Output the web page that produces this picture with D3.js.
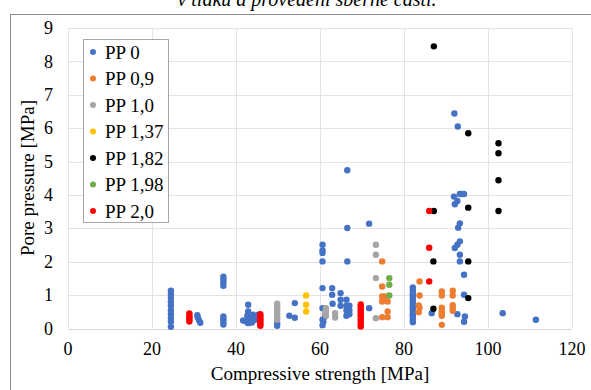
<!DOCTYPE html>
<html>
<head>
<meta charset="utf-8">
<script src="https://cdn.jsdelivr.net/npm/d3@7"></script>
<style>
  html, body { margin: 0; padding: 0; background: #fff; }
  svg { display: block; }
  svg text { font-family: "Liberation Serif", "DejaVu Serif", serif; }
</style>
</head>
<body>
<svg id="chart" width="591" height="390"></svg>
<script>
// series names (legend order = drawing order)
const seriesNames = ["PP 0", "PP 0,9", "PP 1,0", "PP 1,37", "PP 1,82", "PP 1,98", "PP 2,0"];

// [compressive strength, pore pressure]
const pp0 = [
  [24.5,1.13],[24.5,1.03],[24.5,0.93],[24.5,0.81],[24.5,0.69],[24.5,0.55],[24.5,0.43],[24.5,0.31],[24.5,0.2],[24.5,0.05],
  [30.8,0.4],[30.9,0.33],[31.2,0.25],[31.5,0.17],
  [37.0,1.55],[37.0,1.47],[37.0,1.38],[37.0,1.28],[37.0,0.36],[37.0,0.28],[37.0,0.2],[37.0,0.12],
  [42.9,0.71],[42.9,0.51],[42.7,0.38],[41.7,0.24],[42.3,0.22],[43.3,0.24],[42.9,0.16],[43.6,0.3],[44.1,0.41],[44.5,0.26],[45.3,0.41],[43.8,0.18],
  [49.8,0.16],[49.8,0.08],
  [52.7,0.38],[54.0,0.32],[54.0,0.76],
  [60.6,2.51],[60.6,2.34],[60.6,2.26],[60.6,2.01],[60.6,1.21],[60.6,0.61],[60.6,0.26],[60.6,0.1],[61.2,0.36],[60.8,0.2],
  [62.9,1.21],[62.9,1.01],[63.0,0.74],
  [64.9,1.06],[64.9,0.86],[64.9,0.68],
  [66.5,4.74],[66.5,3.01],[66.5,2.01],[66.3,0.86],[66.3,0.68],[67.0,0.68],[66.3,0.54],[67.0,0.54],[66.3,0.38],[67.0,0.43],
  [71.7,3.14],[71.7,0.61],
  [82.1,1.23],[82.1,1.15],[82.1,1.07],[82.1,0.99],[82.1,0.91],[82.1,0.83],[82.1,0.75],[82.1,0.67],[82.1,0.59],[82.1,0.51],[82.1,0.43],[82.1,0.35],[82.1,0.27],[82.1,0.19],
  [86.6,0.46],
  [92.0,6.44],[92.8,6.05],[93.3,4.03],[93.8,4.03],[94.3,4.03],[91.9,3.95],[92.7,3.82],[92.1,3.72],
  [93.3,3.15],[92.9,3.02],[93.3,2.61],[92.7,2.51],[92.1,2.41],[93.3,2.21],[93.3,2.01],[94.3,1.61],[94.3,1.01],
  [92.7,0.43],[94.5,0.36],[94.3,0.2],
  [103.5,0.46],[111.4,0.26]
];
const pp09 = [
  [74.8,2.01],[74.8,1.26],[74.8,0.96],[75.4,0.96],[74.8,0.81],[76.1,0.81],[76.1,0.51],[74.8,0.34],[76.1,0.34],
  [83.7,1.41],[83.7,0.99],[83.5,0.69],[83.7,0.62],[83.5,0.49],
  [89.0,1.11],[89.0,0.99],[89.0,0.62],[89.0,0.52],[89.0,0.45],[89.0,0.38],[89.0,0.11],
  [91.6,1.13],[91.6,0.99],[91.6,0.7],[91.6,0.6],[91.6,0.53]
];
const pp10 = [
  [49.8,0.74],[49.8,0.66],[49.8,0.58],[49.8,0.5],[49.8,0.42],[49.8,0.34],[49.8,0.26],
  [61.4,0.61],[61.4,0.51],[61.4,0.38],[61.2,0.45],[63.6,0.46],[63.6,0.33],
  [73.3,2.51],[73.3,2.21],[73.3,1.51],[73.3,0.31]
];
const pp137 = [[56.7,0.99],[56.7,0.71],[56.7,0.51]];
const pp182 = [
  [87.1,8.45],[87.1,3.52],[87.0,2.01],[87.0,0.59],
  [95.3,5.85],[95.3,3.62],[95.3,2.01],[95.3,0.91],
  [102.5,5.55],[102.5,5.25],[102.5,4.44],[102.5,3.52]
];
const pp198 = [[76.5,1.51],[76.5,1.31],[76.5,0.99]];
const pp20 = [
  [28.9,0.45],[28.9,0.39],[28.9,0.33],[28.9,0.27],[28.9,0.21],
  [45.8,0.43],[45.8,0.37],[45.8,0.31],[45.8,0.25],[45.8,0.19],[45.8,0.13],[45.8,0.08],
  [69.7,0.72],[69.7,0.65],[69.7,0.58],[69.7,0.5],[69.7,0.43],[69.7,0.36],[69.7,0.28],[69.7,0.2],[69.7,0.13],[69.7,0.06],
  [86.0,3.52],[86.0,2.42],[86.0,1.41]
];

const xTicks = [0, 20, 40, 60, 80, 100, 120];
const yTicks = [0, 1, 2, 3, 4, 5, 6, 7, 8, 9];

const allSeries = [pp0, pp09, pp10, pp137, pp182, pp198, pp20];
const colors = ["#4472C4", "#ED7D31", "#A5A5A5", "#FFC000", "#000000", "#70AD47", "#FF0000"];

const svg = d3.select("#chart");

const x = d3.scaleLinear().domain([0, 120]).range([68, 572]);
const y = d3.scaleLinear().domain([0, 9]).range([328.5, 28]);

// caption line of the page above the chart (cut off at the top, as in the picture)
svg.append("text")
  .attr("x", 307).attr("y", 6)
  .attr("text-anchor", "middle")
  .style("font-size", "20px").style("font-style", "italic")
  .attr("fill", "#000")
  .text("v tlaku a provedení sběrné části.");

// chart area border
svg.append("rect")
  .attr("x", 10.5).attr("y", 14.5)
  .attr("width", 620).attr("height", 420)
  .attr("fill", "#fff").attr("stroke", "#8c8c8c");

// gridlines
svg.append("g").selectAll("line")
  .data(xTicks).join("line")
  .attr("x1", d => Math.round(x(d)) + 0.5).attr("x2", d => Math.round(x(d)) + 0.5)
  .attr("y1", y(9)).attr("y2", y(0))
  .attr("stroke", "#e3e3e3").attr("stroke-width", 1);

svg.append("g").selectAll("line")
  .data(yTicks).join("line")
  .attr("x1", x(0)).attr("x2", x(120))
  .attr("y1", d => Math.round(y(d)) + 0.5).attr("y2", d => Math.round(y(d)) + 0.5)
  .attr("stroke", d => d === 0 ? "#d9d9d9" : "#e3e3e3").attr("stroke-width", 1);

// tick labels
svg.append("g").selectAll("text")
  .data(xTicks).join("text")
  .attr("x", d => x(d)).attr("y", 355)
  .attr("text-anchor", "middle")
  .style("font-size", "18px")
  .text(d => d);

svg.append("g").selectAll("text")
  .data(yTicks).join("text")
  .attr("x", 53).attr("y", d => y(d))
  .attr("dy", "0.34em")
  .attr("text-anchor", "end")
  .style("font-size", "18px")
  .text(d => d);

// axis titles
svg.append("text")
  .attr("x", 320).attr("y", 380)
  .attr("text-anchor", "middle")
  .style("font-size", "19px")
  .text("Compressive strength [MPa]");

svg.append("text")
  .attr("transform", "translate(34,178) rotate(-90)")
  .attr("text-anchor", "middle")
  .style("font-size", "19px")
  .text("Pore pressure [MPa]");

// points
allSeries.forEach((s, i) => {
  svg.append("g").selectAll("circle")
    .data(s).join("circle")
    .attr("cx", d => x(d[0]))
    .attr("cy", d => y(d[1]))
    .attr("r", 3.2)
    .attr("fill", colors[i]);
});

// legend
const legend = svg.append("g");
legend.append("rect")
  .attr("x", 83.5).attr("y", 39.5)
  .attr("width", 85).attr("height", 183)
  .attr("fill", "#fff").attr("stroke", "#a6a6a6");

const item = legend.selectAll("g.item")
  .data(seriesNames).join("g")
  .attr("class", "item")
  .attr("transform", (d, i) => `translate(0,${52 + i * 26.5})`);

item.append("circle")
  .attr("cx", 93).attr("cy", 0).attr("r", 3)
  .attr("fill", (d, i) => colors[i]);

item.append("text")
  .attr("x", 105).attr("y", 0).attr("dy", "0.35em")
  .style("font-size", "19px")
  .text(d => d);
</script>
</body>
</html>
